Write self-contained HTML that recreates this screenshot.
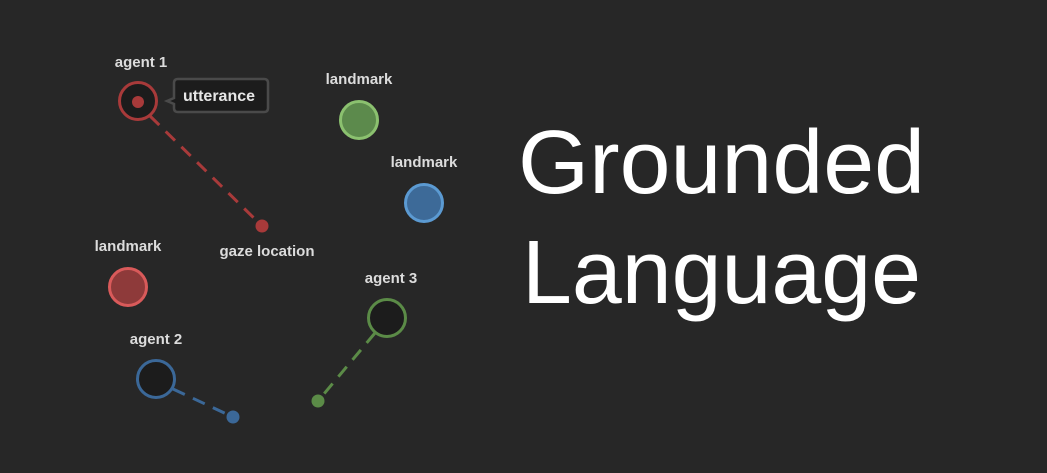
<!DOCTYPE html>
<html><head><meta charset="utf-8"><style>
html,body{margin:0;padding:0;background:#272727;}
svg{display:block}
text{font-family:"Liberation Sans","DejaVu Sans",sans-serif;}
.l{fill:#dcdcdc;font-size:15px;font-weight:bold;text-anchor:middle;}
</style></head><body>
<svg width="1047" height="473" viewBox="0 0 1047 473" xmlns="http://www.w3.org/2000/svg">
<rect width="1047" height="473" fill="#272727"/>
<line x1="150" y1="116" x2="262" y2="226" stroke="#a83a3a" stroke-width="3" stroke-dasharray="13,9"/>
<line x1="173" y1="389" x2="233" y2="417" stroke="#3b6898" stroke-width="3" stroke-dasharray="13,9"/>
<line x1="375" y1="333" x2="318" y2="401" stroke="#5b8b47" stroke-width="3" stroke-dasharray="13,9"/>
<circle cx="138" cy="101" r="18.5" fill="#1c1c1c" stroke="#a83a3a" stroke-width="3"/>
<circle cx="138" cy="102" r="6" fill="#a83a3a"/>
<circle cx="262" cy="226" r="6.5" fill="#a83a3a"/>
<path d="M178 79 H264 Q268 79 268 83 V108 Q268 112 264 112 H178 Q174 112 174 108 V104 L167 101 L174 98 V83 Q174 79 178 79 Z" fill="#1c1c1c" stroke="#4a4a4a" stroke-width="2.5"/>
<text x="219" y="101" class="l" style="fill:#e6e6e6;font-size:16px">utterance</text>
<circle cx="359" cy="120" r="18.5" fill="#5c8a4c" stroke="#8bc16f" stroke-width="3"/>
<circle cx="424" cy="203" r="18.5" fill="#3d6a98" stroke="#5b9ad2" stroke-width="3"/>
<circle cx="128" cy="287" r="18.5" fill="#8e3a3a" stroke="#d95a5a" stroke-width="3"/>
<circle cx="387" cy="318" r="18.5" fill="#1c1c1c" stroke="#5b8b47" stroke-width="3"/>
<circle cx="318" cy="401" r="6.5" fill="#5b8b47"/>
<circle cx="156" cy="379" r="18.5" fill="#1c1c1c" stroke="#3b6898" stroke-width="3"/>
<circle cx="233" cy="417" r="6.5" fill="#3b6898"/>
<text x="141" y="67" class="l">agent 1</text>
<text x="359" y="84" class="l">landmark</text>
<text x="424" y="167" class="l">landmark</text>
<text x="267" y="256" class="l">gaze location</text>
<text x="128" y="251" class="l">landmark</text>
<text x="391" y="283" class="l">agent 3</text>
<text x="156" y="344" class="l">agent 2</text>
<text x="518" y="193" fill="#ffffff" font-size="90" textLength="407" lengthAdjust="spacingAndGlyphs">Grounded</text>
<text x="522" y="303" fill="#ffffff" font-size="90" textLength="399" lengthAdjust="spacingAndGlyphs">Language</text>
</svg>
</body></html>
